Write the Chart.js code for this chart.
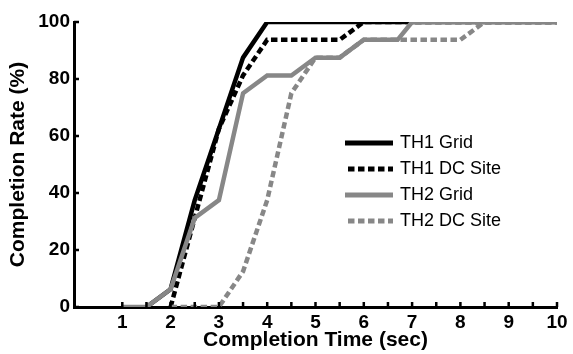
<!DOCTYPE html>
<html>
<head>
<meta charset="utf-8">
<script src="https://cdn.jsdelivr.net/npm/chart.js@4.4.1/dist/chart.umd.min.js"></script>
<style>
  html, body { margin: 0; padding: 0; background: #fff; }
</style>
</head>
<body>
<canvas id="chart" width="573" height="354"></canvas>
<script>
// completion time (sec) / completion rate (%)
const th1GridTime = [1.5, 2, 2.5, 3, 3.5, 4, 10];
const th1GridRate = [0, 6.25, 37.5, 62.5, 87.5, 100, 100];

const th1DcTime = [2, 2.5, 3, 3.5, 4, 5.5, 6, 10];
const th1DcRate = [0, 31.25, 62.5, 81.25, 93.75, 93.75, 100, 100];

const th2GridTime = [1, 1.5, 2, 2.5, 3, 3.5, 4, 4.5, 5, 5.5, 6, 6.7, 7, 10];
const th2GridRate = [0, 0, 6.25, 31.25, 37.5, 75, 81.25, 81.25, 87.5, 87.5, 93.75, 93.75, 100, 100];

const th2DcTime = [2, 3, 3.5, 4, 4.5, 5, 5.5, 6, 8, 8.5, 10];
const th2DcRate = [0, 0, 12.5, 37.5, 75, 87.5, 87.5, 93.75, 93.75, 100, 100];

const xTickLabels = [1, 2, 3, 4, 5, 6, 7, 8, 9, 10];
const yTickLabels = [0, 20, 40, 60, 80, 100];

const FONT = '"Liberation Sans", Arial, Helvetica, sans-serif';
const GRAY = '#878787';

function points(xs, ys) {
  return xs.map((x, i) => ({ x, y: ys[i] }));
}

// ticks point into the plot, like the original figure
const inwardTicks = {
  id: 'inwardTicks',
  afterDraw(chart) {
    const { ctx, chartArea, scales } = chart;
    ctx.save();
    ctx.strokeStyle = '#000';
    ctx.lineWidth = 2.5;
    ctx.beginPath();
    scales.x.ticks.forEach((t, i) => {
      if (t.value < 1) return;
      const px = scales.x.getPixelForTick(i);
      ctx.moveTo(px, chartArea.bottom);
      ctx.lineTo(px, chartArea.bottom - 5);
    });
    scales.y.ticks.forEach((t, i) => {
      const py = scales.y.getPixelForTick(i);
      ctx.moveTo(chartArea.left, py);
      ctx.lineTo(chartArea.left + 5, py);
    });
    ctx.stroke();
    ctx.restore();
  }
};

// legend box sits inside the plot area
const insideLegend = {
  id: 'insideLegend',
  afterDraw(chart) {
    const { ctx, chartArea } = chart;
    const x0 = chartArea.left + 271;
    const y0 = chartArea.top + 121;
    chart.data.datasets.forEach((ds, i) => {
      const y = y0 + i * 26;
      ctx.save();
      ctx.strokeStyle = ds.borderColor;
      ctx.lineWidth = 5;
      ctx.lineCap = 'butt';
      ctx.setLineDash(ds.borderDash || []);
      ctx.beginPath();
      ctx.moveTo(ds.borderDash ? x0 + 3 : x0, y);
      ctx.lineTo(x0 + 48, y);
      ctx.stroke();
      ctx.restore();
      ctx.save();
      ctx.fillStyle = '#000';
      ctx.font = '18px ' + FONT;
      ctx.textBaseline = 'middle';
      ctx.fillText(ds.label, x0 + 55, y + 0.5);
      ctx.restore();
    });
  }
};

new Chart(document.getElementById('chart'), {
  type: 'line',
  data: {
    datasets: [
      {
        label: 'TH1 Grid',
        data: points(th1GridTime, th1GridRate),
        borderColor: '#000',
        borderWidth: 4.5,
        order: 4,
      },
      {
        label: 'TH1 DC Site',
        data: points(th1DcTime, th1DcRate),
        borderColor: '#000',
        borderWidth: 4.5,
        borderDash: [6.5, 3.5],
        order: 3,
      },
      {
        label: 'TH2 Grid',
        data: points(th2GridTime, th2GridRate),
        borderColor: GRAY,
        borderWidth: 4.5,
        order: 2,
      },
      {
        label: 'TH2 DC Site',
        data: points(th2DcTime, th2DcRate),
        borderColor: GRAY,
        borderWidth: 4.5,
        borderDash: [6.5, 3.5],
        order: 1,
      },
    ],
  },
  options: {
    responsive: false,
    animation: false,
    devicePixelRatio: 1,
    layout: { padding: { top: 22, right: 16, left: 0, bottom: 0 } },
    elements: {
      line: { tension: 0, borderCapStyle: 'butt', borderJoinStyle: 'miter', fill: false },
      point: { radius: 0, hoverRadius: 0 },
    },
    datasets: { line: { clip: 0 } },
    plugins: {
      legend: { display: false },
      tooltip: { enabled: false },
    },
    scales: {
      x: {
        type: 'linear',
        min: 0,
        max: 10,
        z: 1,
        afterFit: (s) => { s.height = 47; },
        grid: { display: false, drawTicks: false },
        border: { display: true, color: '#000', width: 3 },
        ticks: {
          stepSize: 0.5,
          autoSkip: false,
          maxRotation: 0,
          padding: 4,
          color: '#000',
          font: { family: FONT, size: 19, weight: 'bold' },
          callback: (v) => (xTickLabels.includes(v) ? String(v) : ''),
        },
        title: {
          display: true,
          text: 'Completion Time (sec)',
          color: '#000',
          padding: { top: 0, bottom: 1 },
          font: { family: FONT, size: 21, weight: 'bold' },
        },
      },
      y: {
        type: 'linear',
        min: 0,
        max: 100,
        z: 1,
        afterFit: (s) => { s.width = 74; },
        grid: { display: false, drawTicks: false },
        border: { display: true, color: '#000', width: 3 },
        ticks: {
          stepSize: 20,
          padding: 4,
          color: '#000',
          font: { family: FONT, size: 19, weight: 'bold' },
          callback: (v) => (yTickLabels.includes(v) ? String(v) : ''),
        },
        title: {
          display: true,
          text: 'Completion Rate (%)',
          color: '#000',
          padding: { top: 6, bottom: 0 },
          font: { family: FONT, size: 21, weight: 'bold' },
        },
      },
    },
  },
  plugins: [inwardTicks, insideLegend],
});
</script>
</body>
</html>
